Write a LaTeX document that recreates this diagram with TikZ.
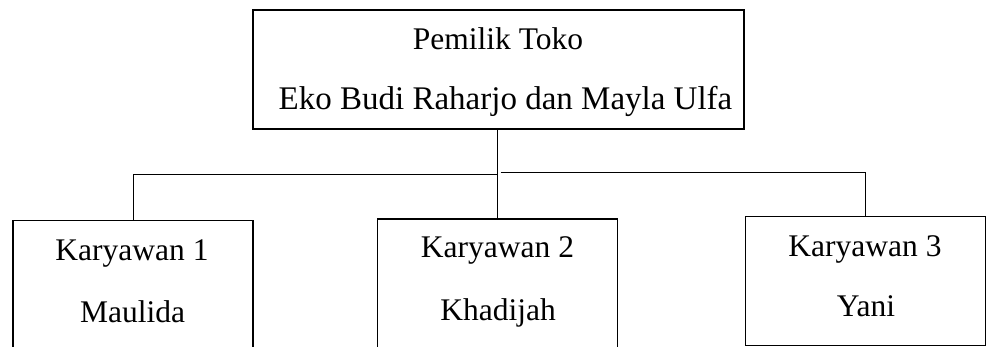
\documentclass[tikz,border=0pt]{standalone}
\usepackage{fontspec}
\setmainfont{Liberation Serif}
\begin{document}
\begin{tikzpicture}[x=1pt,y=-1pt,
  box/.style={draw=black,line width=1.2pt,rectangle,inner sep=0pt,outer sep=0pt},
  lbl/.style={anchor=base,inner sep=0pt,font=\fontsize{31.5}{38}\selectfont},
  conn/.style={draw=black,line width=1pt}]
\useasboundingbox (0,0) rectangle (987,347);
\clip (0,0) rectangle (987,347);
% boxes
\node[box,minimum width=491pt,minimum height=119pt,anchor=north] (top) at (498.5,10) {};
\node[box,minimum width=240pt,minimum height=180pt,anchor=north] (left) at (133,220.7) {};
\node[box,minimum width=240pt,minimum height=180pt,anchor=north] (mid) at (497.7,219) {};
\node[box,minimum width=240pt,minimum height=129pt,anchor=north] (right) at (865.7,216.7) {};
% labels
\node[lbl] (t1) at (498,49.3) {Pemilik Toko};
\node[lbl,font=\fontsize{33}{40}\selectfont] (t2) at (505.5,110) {Eko Budi Raharjo dan Mayla Ulfa};
\node[lbl] (k1) at (132,260) {Karyawan 1};
\node[lbl] (m1) at (132.5,322) {Maulida};
\node[lbl] (k2) at (497.5,258) {Karyawan 2};
\node[lbl] (m2) at (498,320) {Khadijah};
\node[lbl] (k3) at (865,256.7) {Karyawan 3};
\node[lbl] (m3) at (866,316.7) {Yani};
% connectors
\coordinate (jl) at (497.7,174.5);
\coordinate (jr) at (500.5,173);
\draw[conn] (top.south -| mid.north) -- (mid.north);
\draw[conn] (jl) -| (left.north);
\draw[conn] (jr) -| (right.north);
\end{tikzpicture}
\end{document}
